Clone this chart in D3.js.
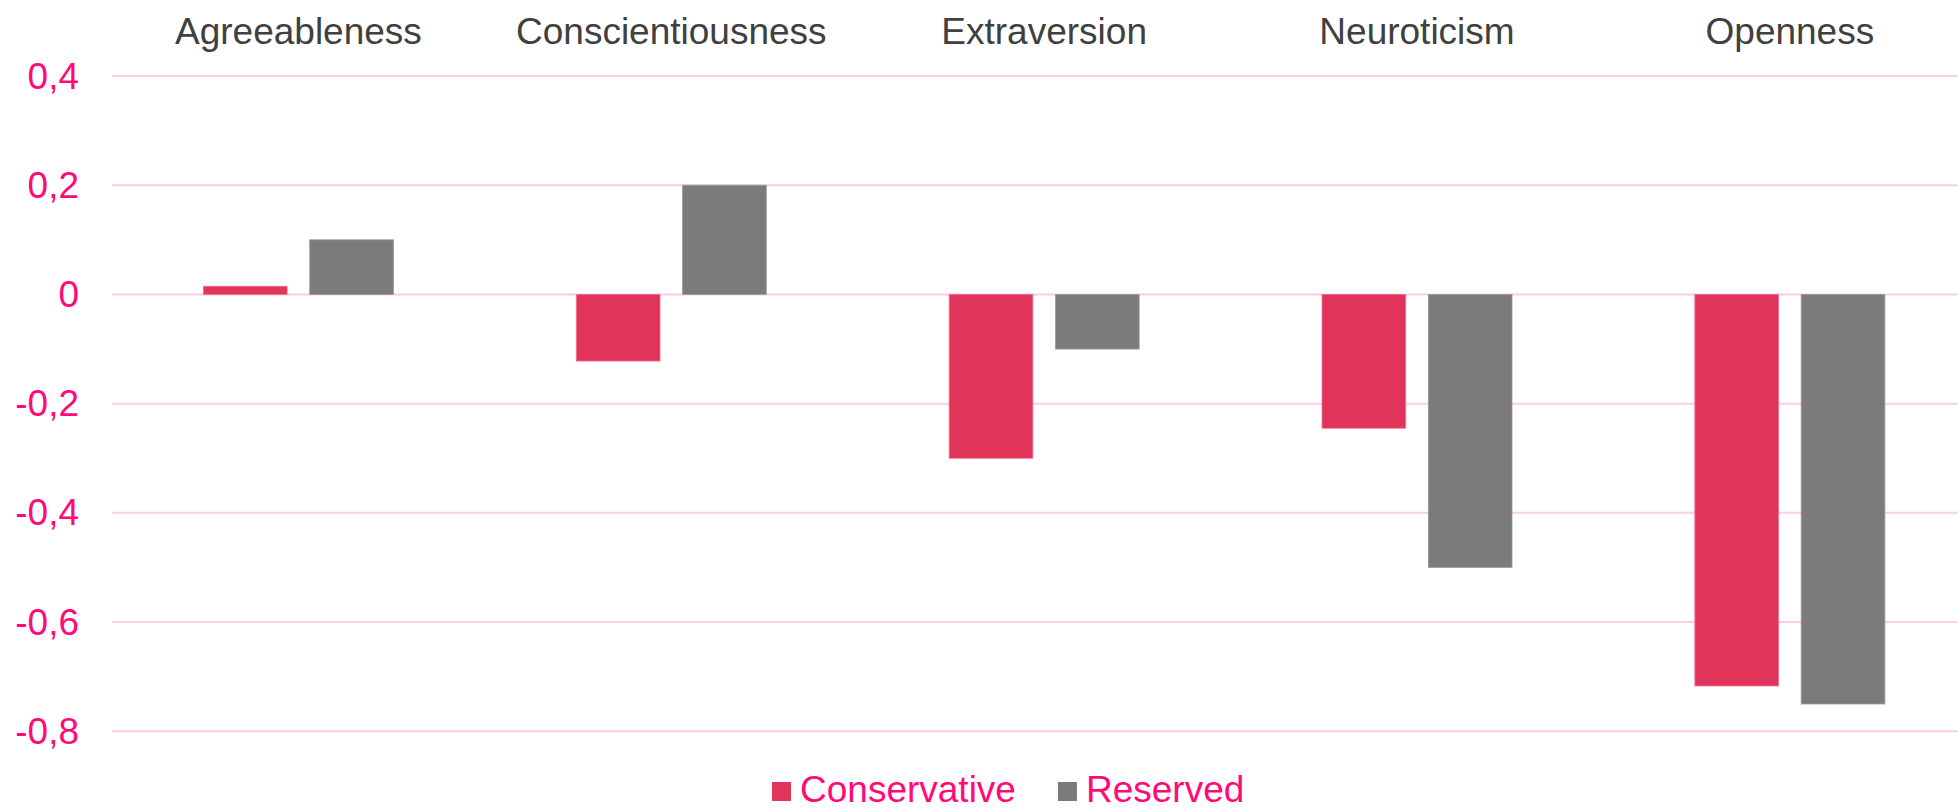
<!DOCTYPE html>
<html>
<head>
<meta charset="utf-8">
<script src="https://cdn.jsdelivr.net/npm/d3@7"></script>
<style>
  html, body { margin: 0; padding: 0; background: #ffffff; overflow: hidden; }
  svg { display: block; font-family: "Liberation Sans", Arial, sans-serif; }
</style>
</head>
<body>
<script>
const categories = ["Agreeableness", "Conscientiousness", "Extraversion", "Neuroticism", "Openness"];
const seriesNames = ["Conservative", "Reserved"];
const conservativeValues = [0.015, -0.122, -0.30, -0.245, -0.717];
const reservedValues = [0.10, 0.20, -0.10, -0.50, -0.75];
const yTicks = [0.4, 0.2, 0, -0.2, -0.4, -0.6, -0.8];
const yTickLabels = ["0,4", "0,2", "0", "-0,2", "-0,4", "-0,6", "-0,8"];
const seriesColors = ["#E0345A", "#7B7B7B"];
const seriesStroke = ["#F2708C", "#9A9A9A"];

const W = 1958, H = 811;
const svg = d3.select("body").append("svg").attr("width", W).attr("height", H);

const x0 = d3.scaleBand().domain(categories).range([112, 1976.3]).padding(0);
const x1 = d3.scaleBand().domain(seriesNames).range([-95, 95]).paddingInner(0.2126).paddingOuter(0);
const y = d3.scaleLinear().domain([-0.8, 0.4]).range([731.3, 76]);

// gridlines
svg.append("g").selectAll("line").data(yTicks).join("line")
  .attr("x1", 112).attr("x2", 1976.3)
  .attr("y1", d => y(d)).attr("y2", d => y(d))
  .attr("stroke", "#FFCCE4").attr("stroke-width", 2);

// y labels
svg.append("g").selectAll("text").data(yTicks).join("text")
  .attr("x", 79).attr("y", d => y(d) + 12.5)
  .attr("text-anchor", "end")
  .attr("font-size", 37).attr("fill", "#FF0A78")
  .text((d, i) => yTickLabels[i]);

// category labels
svg.append("g").selectAll("text").data(categories).join("text")
  .attr("x", d => x0(d) + x0.bandwidth() / 2).attr("y", 44)
  .attr("text-anchor", "middle")
  .attr("font-size", 37).attr("fill", "#404040")
  .text(d => d);

// bars
const seriesData = [conservativeValues, reservedValues];
seriesNames.forEach((s, si) => {
  svg.append("g").selectAll("rect").data(categories).join("rect")
    .attr("x", d => x0(d) + x0.bandwidth() / 2 + x1(s))
    .attr("width", x1.bandwidth())
    .attr("y", (d, i) => y(Math.max(0, seriesData[si][i])))
    .attr("height", (d, i) => Math.abs(y(seriesData[si][i]) - y(0)))
    .attr("fill", seriesColors[si])
    .attr("stroke", seriesStroke[si]).attr("stroke-width", 0.8);
});

// legend
const lg = svg.append("g");
let lx = 772;
seriesNames.forEach((s, si) => {
  lg.append("rect").attr("x", lx).attr("y", 782).attr("width", 19).attr("height", 19)
    .attr("fill", seriesColors[si]);
  const t = lg.append("text").attr("x", lx + 28).attr("y", 802)
    .attr("font-size", 37).attr("fill", "#FF0A78").text(s);
  lx = lx + 28 + t.node().getComputedTextLength() + 42;
});
</script>
</body>
</html>
